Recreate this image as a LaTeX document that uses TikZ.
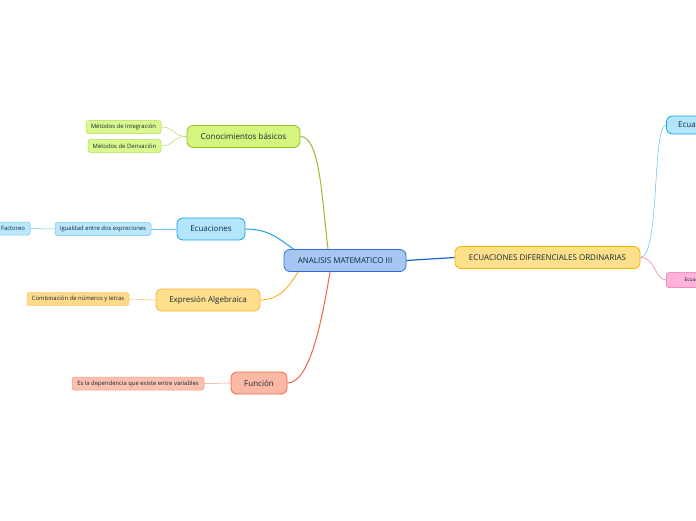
\documentclass[tikz,border=0pt]{standalone}
\usepackage{fontspec}
\setmainfont{Open Sans}
\begin{document}
\begin{tikzpicture}[x=1pt,y=-1pt,
  box/.style={draw, rounded corners=6pt, line width=0.8pt, inner sep=0pt, align=center, text=tdark},
  main/.style={box, font=\fontsize{8}{9}\selectfont, minimum height=22pt},
  sub/.style={draw, rounded corners=2.5pt, line width=0.5pt, inner sep=0pt, font=\fontsize{5.9}{6.5}\selectfont, minimum height=13pt, text=tdark}
]
\definecolor{tdark}{HTML}{13283A}
\useasboundingbox (0,0) rectangle (696,520);
\clip (0,0) rectangle (696,520);
\definecolor{cfill}{HTML}{A6C6F4}\definecolor{cline}{HTML}{2F6ED6}
\definecolor{yfill}{HTML}{FFE08A}\definecolor{yline}{HTML}{F5B400}
\definecolor{gfill}{HTML}{D5F57F}\definecolor{gline}{HTML}{8DC02A}
\definecolor{gsfill}{HTML}{DAF98C}\definecolor{gsline}{HTML}{AEDB5A}
\definecolor{bfill}{HTML}{B3E5FC}\definecolor{bline}{HTML}{1FA2E0}
\definecolor{bsfill}{HTML}{BAE7FB}\definecolor{bsline}{HTML}{6CC8F0}
\definecolor{ofill}{HTML}{FFDE8C}\definecolor{oline}{HTML}{F9B630}
\definecolor{osfill}{HTML}{FFD98A}\definecolor{osline}{HTML}{F6C466}
\definecolor{rfill}{HTML}{FBB8A4}\definecolor{rline}{HTML}{F26341}
\definecolor{rsfill}{HTML}{FBC0AE}\definecolor{rsline}{HTML}{F39A82}
\definecolor{pfill}{HTML}{FFB3D9}\definecolor{pline}{HTML}{F06AA8}
\definecolor{edoline}{HTML}{1262D0}

% nodes
\node[main, fill=cfill, draw=cline, minimum width=122pt] (c) at (345,260.5) {ANALISIS MATEMATICO III};
\node[main, fill=yfill, draw=yline, minimum width=185pt] (edo) at (547.5,257.5) {ECUACIONES DIFERENCIALES ORDINARIAS};
\node[main, fill=gfill, draw=gline, minimum width=113pt] (k) at (243.5,136.5) {Conocimientos básicos};
\node[sub, fill=gsfill, draw=gsline, minimum width=75pt] (mi) at (123.5,127) {Métodos de Integración};
\node[sub, fill=gsfill, draw=gsline, minimum width=73pt] (md) at (124.5,146) {Métodos de Derivación};
\node[main, fill=bfill, draw=bline, minimum width=68pt] (e) at (211,229) {Ecuaciones};
\node[sub, fill=bsfill, draw=bsline, minimum width=96pt] (ig) at (103,229) {Igualdad entre dos expreciones};
\node[sub, fill=bsfill, draw=bsline, minimum width=40pt] (fa) at (10,228.5) {\hspace*{6pt}Factoreo};
\node[main, fill=ofill, draw=oline, minimum width=104pt] (ex) at (208,300) {Expresión Algebraica};
\node[sub, fill=osfill, draw=osline, minimum width=102pt] (co) at (78,299) {Combinación de números y letras};
\node[main, fill=rfill, draw=rline, minimum width=56pt] (f) at (259,383) {Función};
\node[sub, fill=rsfill, draw=rsline, minimum width=132pt] (es) at (138,383.5) {Es la dependencia que existe entre variables};
\node[main, fill=bfill, draw=bline, minimum width=60pt, minimum height=18pt, anchor=west] (r1) at (666,125) {\hspace*{5pt}Ecuaciones\hfill};
\node[sub, fill=pfill, draw=pline, minimum width=60pt, minimum height=15pt, anchor=west, font=\fontsize{5}{6}\selectfont] (r2) at (666,280) {\hspace*{2.5pt}Ecuaciones\hfill};

% connectors
\draw[gline, line width=1pt] (k.east) .. controls (320,136) and (322,200) .. (328,249);
\draw[bline, line width=1pt] (e.east) .. controls (270,229) and (280,240) .. (295,250);
\draw[oline, line width=1pt] (ex.east) .. controls (280,300) and (290,285) .. (298,272);
\draw[rline, line width=1pt] (f.east) .. controls (310,383) and (322,320) .. (330,272);
\draw[edoline, line width=1.2pt] (c.east) -- (edo.west);
\draw[bline!70, line width=0.5pt] (edo.east) .. controls (660,257) and (652,125) .. (r1.west);
\draw[pline, line width=0.5pt] (edo.east) .. controls (655,257) and (655,280) .. (r2.west);
\draw[gsline, line width=0.5pt] (mi.east) .. controls (175,127) and (172,136) .. (k.west);
\draw[gsline, line width=0.5pt] (md.east) .. controls (175,146) and (172,136) .. (k.west);
\draw[bsline, line width=0.5pt] (ig.east) -- (e.west);
\draw[bsline, line width=0.5pt] (fa.east) -- (ig.west);
\draw[osline, line width=0.5pt] (co.east) -- (ex.west);
\draw[rsline, line width=0.5pt] (es.east) -- (f.west);
\end{tikzpicture}
\end{document}
